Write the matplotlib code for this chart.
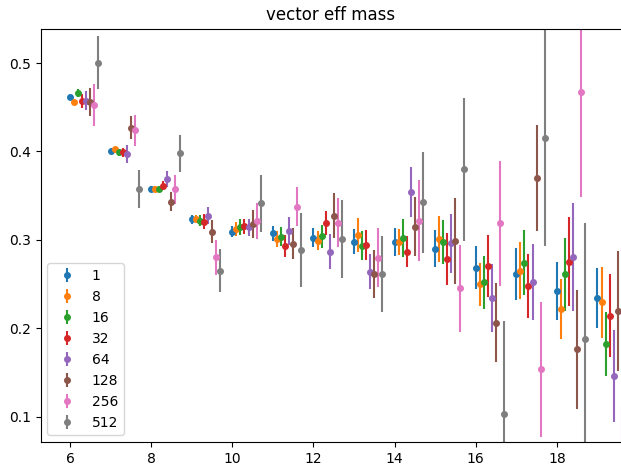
import matplotlib
matplotlib.use("Agg")
import matplotlib.pyplot as plt
import numpy as np

t = np.arange(6, 20)
labels = ["1", "8", "16", "32", "64", "128", "256", "512"]

v1 = [0.462, 0.401, 0.3576, 0.3233, 0.3093, 0.3074, 0.3025, 0.298, 0.2976, 0.29, 0.2686, 0.2614, 0.2422, 0.2346]
e1 = [0.002, 0.002, 0.003, 0.005, 0.0064, 0.0083, 0.0107, 0.0143, 0.0157, 0.021, 0.024, 0.0296, 0.0326, 0.034]
v8 = [0.456, 0.4025, 0.3576, 0.3237, 0.3123, 0.301, 0.2991, 0.3055, 0.298, 0.301, 0.2497, 0.2652, 0.2218, 0.2294]
e8 = [0.002, 0.003, 0.003, 0.005, 0.0075, 0.0089, 0.011, 0.0189, 0.0147, 0.0258, 0.024, 0.0324, 0.034, 0.04]
v16 = [0.466, 0.399, 0.358, 0.3217, 0.3142, 0.3036, 0.3044, 0.2935, 0.3025, 0.2972, 0.252, 0.2742, 0.261, 0.1819]
e16 = [0.0045, 0.004, 0.0035, 0.006, 0.0089, 0.011, 0.013, 0.0164, 0.0217, 0.025, 0.0303, 0.0368, 0.0417, 0.0364]
v32 = [0.457, 0.399, 0.3613, 0.3206, 0.3157, 0.293, 0.3195, 0.2942, 0.2867, 0.2784, 0.2705, 0.2478, 0.2754, 0.2143]
e32 = [0.0075, 0.005, 0.005, 0.0085, 0.0085, 0.0123, 0.0136, 0.017, 0.0173, 0.0296, 0.035, 0.0358, 0.05, 0.047]
v64 = [0.4575, 0.397, 0.3686, 0.3274, 0.3142, 0.3104, 0.2867, 0.264, 0.3545, 0.2962, 0.2346, 0.2527, 0.2803, 0.1464]
e64 = [0.011, 0.01, 0.009, 0.0098, 0.01, 0.0157, 0.0196, 0.0198, 0.0283, 0.0336, 0.0386, 0.043, 0.061, 0.052]
v128 = [0.456, 0.427, 0.3432, 0.3093, 0.318, 0.2954, 0.3274, 0.2614, 0.315, 0.2991, 0.2063, 0.3704, 0.1762, 0.2199]
e128 = [0.016, 0.013, 0.011, 0.013, 0.016, 0.0175, 0.0255, 0.0273, 0.0336, 0.0486, 0.0447, 0.06, 0.0675, 0.068]
v256 = [0.4526, 0.424, 0.3572, 0.2803, 0.3214, 0.3376, 0.3195, 0.2799, 0.3217, 0.2452, 0.3188, 0.1536, 0.467, 0.04]
e256 = [0.024, 0.0175, 0.0166, 0.0198, 0.02, 0.0222, 0.0277, 0.033, 0.0456, 0.049, 0.071, 0.0767, 0.119, 0.071]
v512 = [0.5005, 0.3576, 0.398, 0.2652, 0.3414, 0.2886, 0.301, 0.2614, 0.3425, 0.3799, 0.103, 0.4156, 0.1875, 0.25]
e512 = [0.030, 0.0217, 0.0207, 0.024, 0.032, 0.042, 0.0437, 0.0434, 0.057, 0.081, 0.105, 0.123, 0.132, 0.15]

values = [v1, v8, v16, v32, v64, v128, v256, v512]
errors = [e1, e8, e16, e32, e64, e128, e256, e512]

fig = plt.figure(figsize=(6.21, 4.65), dpi=100)
ax = fig.add_axes([40.5 / 621, 23 / 465, (621 - 40.5) / 621, (442 - 28.7) / 465])

for i, (lab, v, e) in enumerate(zip(labels, values, errors)):
    ax.errorbar(t + 0.1 * i, v, yerr=e, fmt="o", markersize=4, label=lab)

ax.set_xlim(5.273, 19.58)
ax.set_ylim(0.0714, 0.5389)
ax.set_xticks([6, 8, 10, 12, 14, 16, 18])
ax.set_yticks([0.1, 0.2, 0.3, 0.4, 0.5])
ax.spines["right"].set_visible(False)
ax.set_title("vector eff mass")
ax.legend(loc="lower left")

fig.savefig("out.png", dpi=100)
